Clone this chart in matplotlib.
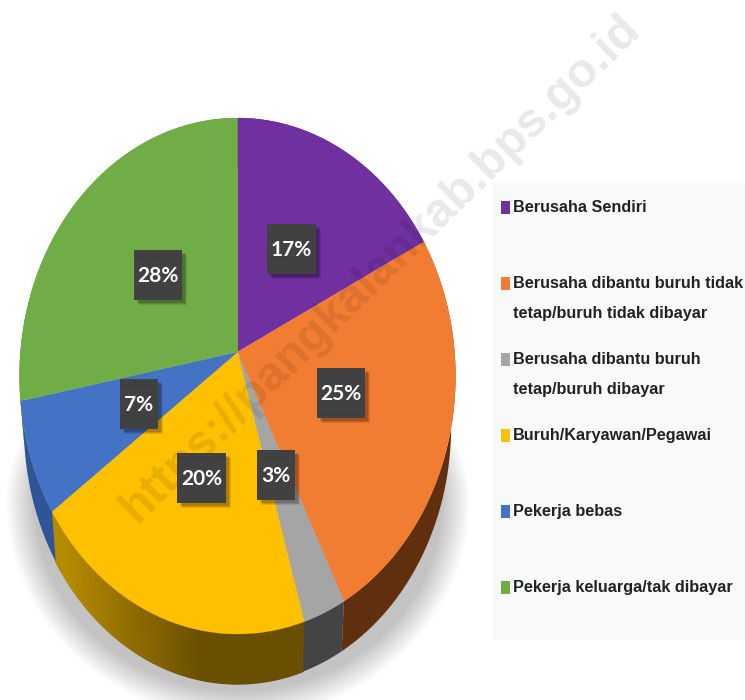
#!/usr/bin/env python3
"""Pie 3D en perspective : statut d'emploi (BPS Pangkalan)."""
import numpy as np
import matplotlib
matplotlib.use("Agg")
import matplotlib.pyplot as plt
from matplotlib.patches import Rectangle, Polygon
from matplotlib.colors import to_rgb

CATEGORIES = [
    "Berusaha Sendiri",
    "Berusaha dibantu buruh tidak\ntetap/buruh tidak dibayar",
    "Berusaha dibantu buruh\ntetap/buruh dibayar",
    "Buruh/Karyawan/Pegawai",
    "Pekerja bebas",
    "Pekerja keluarga/tak dibayar",
]
VALUES = [17, 25, 3, 20, 7, 28]
COLORS = ["#7030a0", "#f17d32", "#a5a5a5", "#ffc000", "#4472c4", "#70ad47"]
SIDE_COLORS = ["#4a2070", "#5f2f0e", "#444444", "#6b4f00", "#2f5597", "#4a7a2e"]
WATERMARK = "https://pangkalankab.bps.go.id"

# geometrie en pixels de l'image
CX, CY = 237.5, 352.0        # centre des parts
OX, OY = 237.5, 376.0        # centre de l'ellipse
RX, RY = 218.0, 258.0
SQUASH = 0.845
DEPTH = 50.0


def arc(share_a, share_b, n=160):
    """Arc de l'ellipse entre deux parts cumulees (0-1), vues en perspective."""
    th = np.linspace(share_a, share_b, n) * 2 * np.pi
    dx, dy = np.sin(th) * SQUASH, np.cos(th)   # dy vers le haut
    # le cote droit de l'image est un peu deforme
    al = np.arctan2(dx, dy) + np.radians(2.6) * np.sqrt(np.clip(np.sin(th), 0, 1))
    dx, dy = np.sin(al), np.cos(al)
    # intersection rayon depuis le centre des parts / ellipse
    a = (dx / RX) ** 2 + (dy / RY) ** 2
    b = 2 * ((CX - OX) * dx / RX ** 2 + (OY - CY) * dy / RY ** 2)
    c = ((CX - OX) / RX) ** 2 + ((OY - CY) / RY) ** 2 - 1
    r = (-b + np.sqrt(b ** 2 - 4 * a * c)) / (2 * a)
    return CX + r * dx, CY - r * dy


def side(x):
    return OX + (x - OX) * 0.98


fig = plt.figure(figsize=(7.45, 7.0), dpi=100)
ax = fig.add_axes([0, 0, 1, 1])
ax.set_xlim(0, 745)
ax.set_ylim(700, 0)
ax.axis("off")

# ombre portee floue sous le pie
t = np.linspace(0, 2 * np.pi, 240)
for e in np.linspace(14, -14, 30):
    sx = 238 + (RX + e) * np.sin(t)
    ry = np.where(np.cos(t) > 0, 150 + e, 205 + e)
    sy = 500 - ry * np.cos(t)
    ax.fill(sx, sy, color="black", alpha=0.008, lw=0, zorder=1)

fracs = np.cumsum([0] + VALUES) / sum(VALUES)

# flancs
for i in range(len(VALUES)):
    x, y = arc(fracs[i], fracs[i + 1])
    if i == 3:  # degrade du jaune
        c0, c1 = np.array(to_rgb("#b58a00")), np.array(to_rgb(SIDE_COLORS[3]))
        for j in range(len(x) - 1):
            mix = np.clip((x[j] - 65) / (200 - 65), 0, 1)
            col = c0 * (1 - mix) + c1 * mix
            ax.fill([x[j], x[j + 1], side(x[j + 1]), side(x[j])],
                    [y[j], y[j + 1], y[j + 1] + DEPTH, y[j] + DEPTH],
                    facecolor=col, edgecolor=col, lw=0.9, zorder=2)
    else:
        ax.fill(np.r_[x, side(x)[::-1]], np.r_[y, (y + DEPTH)[::-1]],
                color=SIDE_COLORS[i], lw=0, zorder=2.5 if i == 2 else 2)

# dessus
for i in range(len(VALUES)):
    x, y = arc(fracs[i], fracs[i + 1])
    ax.add_patch(Polygon(np.c_[np.r_[CX, x], np.r_[CY, y]], closed=True,
                         facecolor=COLORS[i], edgecolor=COLORS[i], lw=0.2, zorder=3))

# filigrane
ax.text(381, 268, WATERMARK, rotation=44.3, rotation_mode="anchor", ha="center", va="center",
        fontsize=34.5, fontweight="bold", family="Liberation Sans", color="black", alpha=0.09, zorder=4)

# etiquettes : centre des boites en pixels
BOX_CENTERS = [(291.5, 248.5), (341, 393), (276, 475), (201.5, 478), (139, 404), (158, 275)]
BOX_W = [49, 48, 38, 49, 38, 48]
BOX_H = 50
plt.rcParams["hatch.linewidth"] = 0.3
for (bx, by), w, v in zip(BOX_CENTERS, BOX_W, VALUES):
    for off, a in [(5, 0.10), (4, 0.12), (3, 0.15)]:
        ax.add_patch(Rectangle((bx - w / 2 + off, by - BOX_H / 2 + off), w, BOX_H,
                               color="black", alpha=a, lw=0, zorder=5))
    ax.add_patch(Rectangle((bx - w / 2, by - BOX_H / 2), w, BOX_H, facecolor="#404040",
                           edgecolor="#4c4c4c", hatch="......", lw=0, zorder=6))
    ax.text(bx, by + 1, f"{v}%", color="white", ha="center", va="center", fontsize=15,
            fontweight="bold", family="Lato", zorder=7)

# legende
ax.add_patch(Rectangle((493, 183), 252, 457, color="#f8fafa", lw=0, zorder=4.5))
for i, (name, col) in enumerate(zip(CATEGORIES, COLORS)):
    ky = 201 + 76 * i
    ax.add_patch(Rectangle((501, ky), 9, 13, color=col, lw=0, zorder=6))
    for j, line in enumerate(name.split("\n")):
        ax.text(513, ky + 6.5 + 30 * j, line, color="#222222", ha="left", va="center",
                fontsize=11.7, fontweight="bold", family="Liberation Sans", zorder=7)

fig.savefig("out.png", dpi=100)
